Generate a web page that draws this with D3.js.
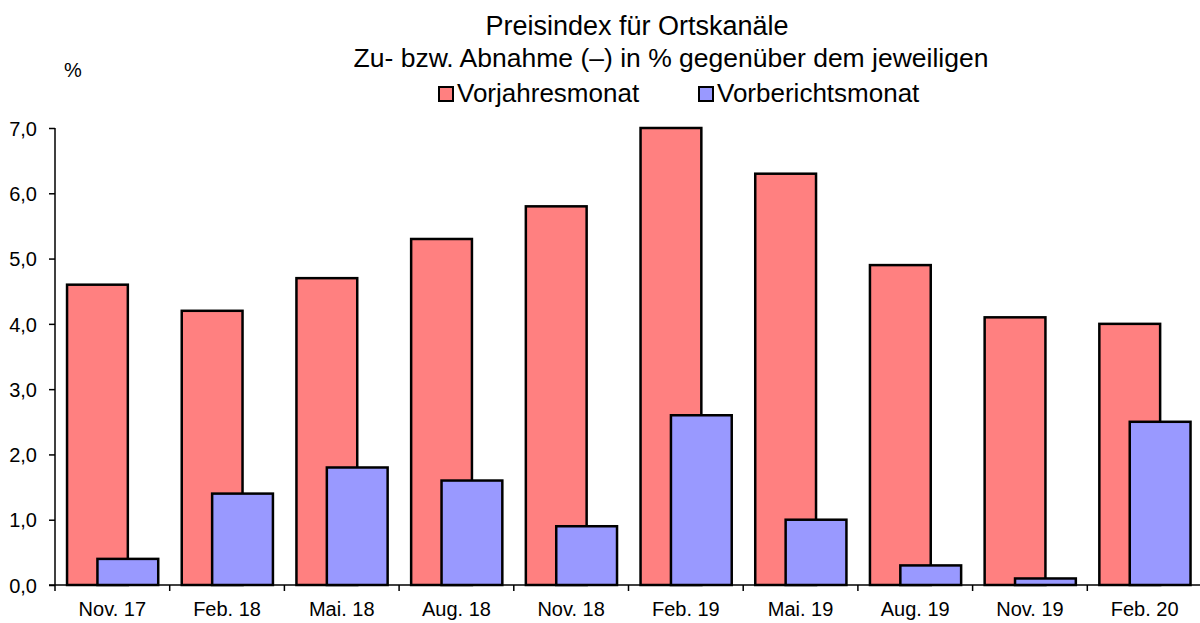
<!DOCTYPE html>
<html>
<head>
<meta charset="utf-8">
<style>
  body { margin: 0; background: #fff; }
  text { font-family: "Liberation Sans", Arial, sans-serif; fill: #000; }
</style>
</head>
<body>
<script src="https://cdn.jsdelivr.net/npm/d3@7"></script>
<script>

  const categories = ['Nov. 17', 'Feb. 18', 'Mai. 18', 'Aug. 18', 'Nov. 18',
                      'Feb. 19', 'Mai. 19', 'Aug. 19', 'Nov. 19', 'Feb. 20']
  const vorjahr = [4.6, 4.2, 4.7, 5.3, 5.8, 7.0, 6.3, 4.9, 4.1, 4.0]
  const vorbericht = [0.4, 1.4, 1.8, 1.6, 0.9, 2.6, 1.0, 0.3, 0.1, 2.5]
  const yTicks = [0, 1, 2, 3, 4, 5, 6, 7]
  const seriesNames = ['Vorjahresmonat', 'Vorberichtsmonat']

  const colors = {red: '#FF8080', blue: '#9999FF'}

  const width = 1200, height = 623
  const margin = {left: 55, top: 128, right: -2, bottom: 38}

  const svg = d3.select('body').append('svg')
      .attr('width', width)
      .attr('height', height)

  const xScale = d3.scaleBand()
    .domain(categories)
    .range([margin.left, width - margin.right])
    .padding(0)
  const yScale = d3.scaleLinear()
    .domain([0, 7])
    .range([height - margin.bottom, margin.top])

  const bw = xScale.bandwidth()
  const barW = bw * 0.53,
        offRed = bw * 0.105,
        offBlue = bw * 0.37

  // red bars first, blue drawn on top
  svg.append('g').selectAll('rect')
    .data(vorjahr)
    .join('rect')
      .attr('x', (d, i) => xScale(categories[i]) + offRed)
      .attr('y', d => yScale(d))
      .attr('width', barW)
      .attr('height', d => yScale(0) - yScale(d))
      .style('fill', colors.red)
      .style('stroke', '#000')
      .style('stroke-width', 2.5)

  svg.append('g').selectAll('rect')
    .data(vorbericht)
    .join('rect')
      .attr('x', (d, i) => xScale(categories[i]) + offBlue)
      .attr('y', d => yScale(d))
      .attr('width', barW)
      .attr('height', d => yScale(0) - yScale(d))
      .style('fill', colors.blue)
      .style('stroke', '#000')
      .style('stroke-width', 2.5)

  // y axis
  const yAxis = d3.axisLeft(yScale)
    .tickValues(yTicks)
    .tickSize(6)
    .tickFormat(d => d3.format('.1f')(d).replace('.', ','))
  const gy = svg.append('g')
      .attr('transform', `translate(${margin.left}, 0)`)
      .call(yAxis)
  gy.select('.domain').attr('d', `M0,${yScale(7)}V${yScale(0)}`).style('stroke-width', 1.5)
  gy.selectAll('.tick line').style('stroke-width', 1.5)
  gy.selectAll('.tick text')
      .attr('x', -18)
      .attr('dy', '0.36em')
      .style('font-size', '20px')
      .style('font-family', '"Liberation Sans", Arial, sans-serif')

  // x axis, ticks between categories
  const gx = svg.append('g')
      .attr('transform', `translate(0, ${yScale(0)})`)
  gx.append('line')
      .attr('x1', margin.left - 6).attr('x2', width)
      .attr('y1', 0).attr('y2', 0)
      .style('stroke', '#000').style('stroke-width', 1.5)
  gx.selectAll('.sep')
    .data(categories)
    .join('line')
      .attr('x1', d => xScale(d)).attr('x2', d => xScale(d))
      .attr('y1', 0).attr('y2', 6)
      .style('stroke', '#000').style('stroke-width', 1.5)
  gx.selectAll('.lab')
    .data(categories)
    .join('text')
      .attr('x', d => xScale(d) + bw / 2)
      .attr('y', 31)
      .attr('text-anchor', 'middle')
      .style('font-size', '20px')
      .text(d => d)

  svg.append('text')
      .attr('x', 73).attr('y', 77)
      .attr('text-anchor', 'middle')
      .style('font-size', '20px')
      .text('%')

  // titles
  svg.append('text')
      .attr('x', 637).attr('y', 35)
      .attr('text-anchor', 'middle')
      .style('font-size', '27px')
      .text('Preisindex für Ortskanäle')
  svg.append('text')
      .attr('x', 671).attr('y', 67)
      .attr('text-anchor', 'middle')
      .style('font-size', '26.5px')
      .text('Zu- bzw. Abnahme (–) in % gegenüber dem jeweiligen')

  // legend
  const legend = svg.append('g')
  const legX = [439, 699]
  const legC = [colors.red, colors.blue]
  legend.selectAll('rect')
    .data(seriesNames)
    .join('rect')
      .attr('x', (d, i) => legX[i])
      .attr('y', 87)
      .attr('width', 14).attr('height', 14)
      .style('fill', (d, i) => legC[i])
      .style('stroke', '#000')
      .style('stroke-width', 2)
  legend.selectAll('text')
    .data(seriesNames)
    .join('text')
      .attr('x', (d, i) => legX[i] + 18)
      .attr('y', 102)
      .style('font-size', '26px')
      .text(d => d)

</script>
</body>
</html>
